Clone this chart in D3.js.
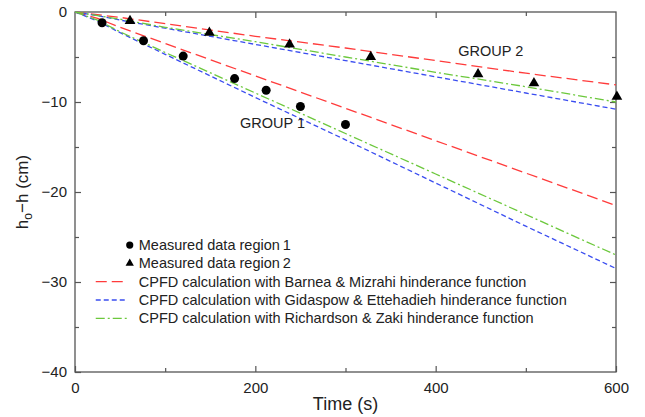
<!DOCTYPE html>
<html>
<head>
<meta charset="utf-8">
<script src="https://cdn.jsdelivr.net/npm/d3@7"></script>
<style>
  body { margin: 0; background: #fff; }
  text { font-family: "Liberation Sans", Arial, sans-serif; fill: #222; }
</style>
</head>
<body>
<svg id="chart" width="645" height="417"></svg>
<script>
// measured data
var region1Time = [30, 76, 120, 177, 212, 250, 300];
var region1Drop = [-1.2, -3.2, -4.9, -7.4, -8.7, -10.5, -12.5];
var region2Time = [61, 149, 238, 328, 447, 509, 601];
var region2Drop = [-1.0, -2.3, -3.6, -5.0, -6.9, -7.9, -9.4];

// CPFD curves (time in s, drop in cm)
var curveTime = [0, 25, 50, 100, 200, 300, 400, 500, 600];
var g1Barnea = [0, -0.7, -1.7, -3.5, -7.1, -10.7, -14.3, -17.9, -21.5];
var g1Gidaspow = [0, -1.0, -2.3, -4.7, -9.5, -14.2, -19.0, -23.8, -28.5];
var g1Richardson = [0, -0.9, -2.2, -4.5, -9.0, -13.5, -18.0, -22.5, -27.0];
var g2Barnea = [0, -0.3, -0.6, -1.3, -2.7, -4.0, -5.4, -6.8, -8.1];
var g2Gidaspow = [0, -0.4, -0.9, -1.8, -3.6, -5.4, -7.2, -9.0, -10.8];
var g2Richardson = [0, -0.4, -0.8, -1.7, -3.3, -5.0, -6.7, -8.3, -10.0];

var legendLabels = [
  "Measured data region\u20091",
  "Measured data region\u20092",
  "CPFD calculation with Barnea & Mizrahi hinderance function",
  "CPFD calculation with Gidaspow & Ettehadieh hinderance function",
  "CPFD calculation with Richardson & Zaki hinderance function"
];

var svg = d3.select("#chart");
var margin = { top: 12, right: 29, bottom: 45, left: 75 };
var width = 645 - margin.left - margin.right;
var height = 417 - margin.top - margin.bottom;

var x = d3.scaleLinear().domain([0, 600]).range([0, width]);
var y = d3.scaleLinear().domain([-40, 0]).range([height, 0]);

var g = svg.append("g")
  .attr("transform", "translate(" + margin.left + "," + margin.top + ")");

// frame
g.append("rect")
  .attr("width", width).attr("height", height)
  .attr("fill", "none").attr("stroke", "#555").attr("stroke-width", 1.3);

// ticks (inward)
function tickLines(axisGen, transform) {
  var a = g.append("g").attr("transform", transform).call(axisGen);
  a.select(".domain").remove();
  a.selectAll("line").attr("stroke", "#555").attr("stroke-width", 1.2);
  a.selectAll("text").style("font-size", "15px").attr("fill", "#222");
  return a;
}

tickLines(d3.axisBottom(x).tickValues([0, 200, 400, 600]).tickSize(-6).tickPadding(10).tickFormat(d3.format("d")),
  "translate(0," + height + ")");
tickLines(d3.axisBottom(x).tickValues([100, 300, 500]).tickSize(-4).tickFormat(""),
  "translate(0," + height + ")");
tickLines(d3.axisTop(x).tickValues([200, 400]).tickSize(-6).tickFormat(""), "translate(0,0)");
tickLines(d3.axisTop(x).tickValues([100, 300, 500]).tickSize(-4).tickFormat(""), "translate(0,0)");

var minus = function(d) { return d < 0 ? "\u2212" + Math.abs(d) : String(d); };
tickLines(d3.axisLeft(y).tickValues([0, -10, -20, -30, -40]).tickSize(-6).tickPadding(8).tickFormat(minus),
  "translate(0,0)");
tickLines(d3.axisLeft(y).tickValues([-5, -15, -25, -35]).tickSize(-4).tickFormat(""), "translate(0,0)");
tickLines(d3.axisRight(y).tickValues([-10, -20, -30]).tickSize(-6).tickFormat(""), "translate(" + width + ",0)");
tickLines(d3.axisRight(y).tickValues([-5, -15, -25, -35]).tickSize(-4).tickFormat(""), "translate(" + width + ",0)");

// curves
var line = d3.line()
  .x(function(d) { return x(d[0]); })
  .y(function(d) { return y(d[1]); });

var styles = [
  { color: "#ff3b3b", dash: "11,5" },
  { color: "#3a4df0", dash: "5,3" },
  { color: "#6cc83c", dash: "9,3,2,3" }
];
var curves = [
  { vals: g1Barnea, s: 0 }, { vals: g1Gidaspow, s: 1 }, { vals: g1Richardson, s: 2 },
  { vals: g2Barnea, s: 0 }, { vals: g2Gidaspow, s: 1 }, { vals: g2Richardson, s: 2 }
];

g.append("g").selectAll("path")
  .data(curves)
  .enter()
  .append("path")
  .attr("d", function(c) { return line(d3.zip(curveTime, c.vals)); })
  .attr("fill", "none")
  .attr("stroke", function(c) { return styles[c.s].color; })
  .attr("stroke-width", 1.3)
  .attr("stroke-dasharray", function(c) { return styles[c.s].dash; });

// measured points
g.append("g").selectAll("circle")
  .data(d3.zip(region1Time, region1Drop))
  .enter()
  .append("circle")
  .attr("cx", function(d) { return x(d[0]); })
  .attr("cy", function(d) { return y(d[1]); })
  .attr("r", 4.5)
  .attr("fill", "#000");

var tri = d3.symbol().type(d3.symbolTriangle).size(50);
g.append("g").selectAll("path")
  .data(d3.zip(region2Time, region2Drop))
  .enter()
  .append("path")
  .attr("d", tri)
  .attr("transform", function(d) { return "translate(" + x(d[0]) + "," + y(d[1]) + ")"; })
  .attr("fill", "#000");

// group labels
g.append("text").attr("x", x(183)).attr("y", y(-12.9)).text("GROUP 1").style("font-size", "14.5px");
g.append("text").attr("x", x(425)).attr("y", y(-4.9)).text("GROUP 2").style("font-size", "14.5px");

// legend
var leg = g.append("g").attr("transform", "translate(" + x(23) + "," + y(-25.9) + ")");
legendLabels.forEach(function(label, i) {
  var row = leg.append("g").attr("transform", "translate(0," + (i * 18.3) + ")");
  if (i === 0) {
    row.append("circle").attr("cx", 34).attr("cy", 0).attr("r", 3.6).attr("fill", "#000");
  } else if (i === 1) {
    row.append("path").attr("d", d3.symbol().type(d3.symbolTriangle).size(30))
      .attr("transform", "translate(34,0)").attr("fill", "#000");
  } else {
    var st = styles[i - 2];
    row.append("line").attr("x1", 0).attr("x2", 32).attr("y1", 0).attr("y2", 0)
      .attr("stroke", st.color).attr("stroke-width", 1.3).attr("stroke-dasharray", st.dash);
  }
  row.append("text").attr("x", 43).attr("y", 0).attr("dy", "0.35em")
    .text(label).style("font-size", "14.5px");
});

// axis titles
svg.append("text")
  .attr("x", margin.left + width / 2).attr("y", 410)
  .attr("text-anchor", "middle").style("font-size", "18px")
  .text("Time (s)");

var yt = svg.append("text")
  .attr("transform", "translate(28," + (margin.top + height / 2) + ") rotate(-90)")
  .attr("text-anchor", "middle").style("font-size", "17px");
yt.append("tspan").text("h");
yt.append("tspan").attr("dy", 4).style("font-size", "12px").text("o");
yt.append("tspan").attr("dy", -4).text("\u2212h (cm)");
</script>
</body>
</html>
